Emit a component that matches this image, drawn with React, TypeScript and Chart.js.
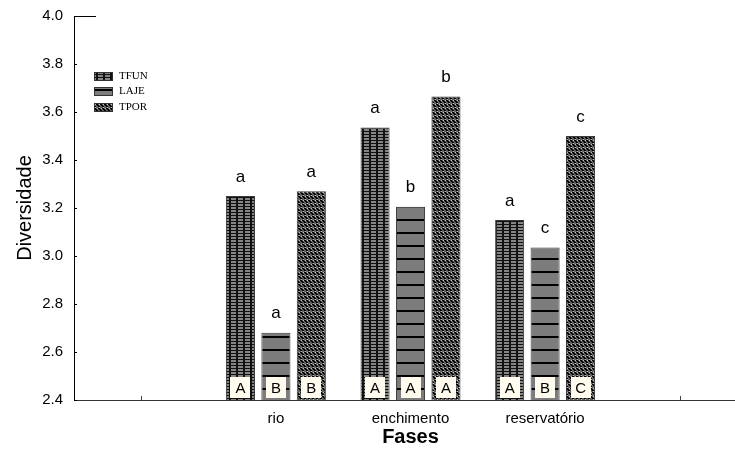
import React, { useEffect, useRef } from 'react';
import { Chart, registerables } from 'chart.js';

Chart.register(...registerables);

// ---- data ----
const categories = ['', 'rio', 'enchimento', 'reservatório', ''];
const seriesNames = ['TFUN', 'LAJE', 'TPOR'];
const tfunValues = [null, 3.25, 3.535, 3.15, null];
const lajeValues = [null, 2.68, 3.205, 3.035, null];
const tporValues = [null, 3.27, 3.665, 3.5, null];
const tfunTopLetters = ['', 'a', 'a', 'a', ''];
const lajeTopLetters = ['', 'a', 'b', 'c', ''];
const tporTopLetters = ['', 'a', 'b', 'c', ''];
const tfunBoxLetters = ['', 'A', 'A', 'A', ''];
const lajeBoxLetters = ['', 'B', 'A', 'B', ''];
const tporBoxLetters = ['', 'B', 'A', 'C', ''];
const yMin = 2.4;
const yMax = 4.0;
const yStep = 0.2;
const yTitle = 'Diversidade';
const xTitle = 'Fases';

const SANS = '"Liberation Sans", Arial, sans-serif';
const SERIF = '"Liberation Serif", "Times New Roman", serif';

function makeTile(w: number, h: number, draw: (c: CanvasRenderingContext2D) => void) {
  const cv = document.createElement('canvas');
  cv.width = w;
  cv.height = h;
  const c = cv.getContext('2d')!;
  draw(c);
  return cv;
}

function makePatterns(ctx: CanvasRenderingContext2D) {
  const tfun = makeTile(7, 3, (c) => {
    c.fillStyle = '#858585';
    c.fillRect(0, 0, 7, 3);
    c.fillStyle = '#111';
    c.fillRect(0, 2, 7, 1);
    c.fillRect(5, 0, 2, 3);
  });
  const laje = makeTile(8, 13, (c) => {
    c.fillStyle = '#7c7c7c';
    c.fillRect(0, 0, 8, 13);
    c.fillStyle = '#000';
    c.fillRect(0, 11, 8, 2);
  });
  const tpor = makeTile(8, 8, (c) => {
    c.fillStyle = '#5e5e5e';
    c.fillRect(0, 0, 8, 8);
    for (let b = 0; b < 2; b++) {
      const yOff = b * 4;
      const xOff = b * 2;
      for (const start of [0, 4]) {
        c.fillStyle = '#000';
        for (let k = 0; k < 3; k++) {
          c.fillRect((start + xOff + k) % 8, yOff + k, 1, 1);
          c.fillRect((start + xOff + k + 1) % 8, yOff + k, 1, 1);
        }
        c.fillStyle = '#bdbdbd';
        c.fillRect((start + xOff + 3) % 8, yOff, 1, 1);
        c.fillRect((start + xOff + 3) % 8, yOff + 3, 1, 1);
      }
    }
  });
  return [
    ctx.createPattern(tfun, 'repeat')!,
    ctx.createPattern(laje, 'repeat')!,
    ctx.createPattern(tpor, 'repeat')!,
  ];
}

export default function App() {
  const ref = useRef<HTMLCanvasElement | null>(null);

  useEffect(() => {
    const canvas = ref.current!;
    const ctx = canvas.getContext('2d')!;
    const patterns = makePatterns(ctx);
    const topLetters = [tfunTopLetters, lajeTopLetters, tporTopLetters];
    const boxLetters = [tfunBoxLetters, lajeBoxLetters, tporBoxLetters];
    const yTicks: number[] = [];
    for (let v = yMin; v <= yMax + 1e-9; v += yStep) yTicks.push(Math.round(v * 10) / 10);

    const decor = {
      id: 'decor',
      beforeDatasetsDraw(chart: any) {
        const { ctx: c, chartArea, scales } = chart;
        c.save();
        c.strokeStyle = '#444';
        c.lineWidth = 1;
        categories.forEach((_, i) => {
          const x = Math.round(scales.x.getPixelForValue(i)) + 0.5;
          c.beginPath();
          c.moveTo(x, chartArea.bottom);
          c.lineTo(x, chartArea.bottom - 4);
          c.stroke();
        });
        c.strokeStyle = '#000';
        yTicks.forEach((v) => {
          const y = Math.round(scales.y.getPixelForValue(v)) + 0.5;
          const len = v === yMax ? 22 : 3;
          c.beginPath();
          c.moveTo(chartArea.left, y);
          c.lineTo(chartArea.left + len, y);
          c.stroke();
        });
        c.restore();
      },
      afterDatasetsDraw(chart: any) {
        const { ctx: c, chartArea } = chart;
        c.save();
        chart.data.datasets.forEach((ds: any, di: number) => {
          const meta = chart.getDatasetMeta(di);
          meta.data.forEach((bar: any, i: number) => {
            if (ds.data[i] == null) return;
            c.fillStyle = '#000';
            c.font = `17px ${SANS}`;
            c.textAlign = 'center';
            c.textBaseline = 'middle';
            c.fillText(topLetters[di][i], bar.x, bar.y - 19);
            const bw = 20;
            const bh = 21;
            const bx = Math.round(bar.x - bw / 2);
            const by = chartArea.bottom - 23;
            c.fillStyle = '#fffbee';
            c.fillRect(bx, by, bw, bh);
            c.fillStyle = '#000';
            c.font = `15px ${SANS}`;
            c.fillText(boxLetters[di][i], bar.x, by + bh / 2 + 1);
          });
        });
        // legend
        const lx = 94;
        const rows = [75.5, 91, 106.5];
        rows.forEach((cy, k) => {
          c.fillStyle = patterns[k];
          c.fillRect(lx, Math.round(cy - 4), 19, 9);
          c.strokeStyle = '#333';
          c.lineWidth = 1;
          c.strokeRect(lx + 0.5, Math.round(cy - 4) + 0.5, 18, 8);
          c.fillStyle = '#000';
          c.font = `11px ${SERIF}`;
          c.textAlign = 'left';
          c.textBaseline = 'middle';
          c.fillText(seriesNames[k], lx + 25, cy + 0.5);
        });
        c.restore();
      },
    };

    const mk = (k: number, data: (number | null)[]) => ({
      label: seriesNames[k],
      data,
      backgroundColor: patterns[k],
      borderColor: '#3a3a3a',
      borderWidth: 1,
      barPercentage: 0.82,
      categoryPercentage: 0.79,
    });

    const chart = new Chart(canvas, {
      type: 'bar',
      data: {
        labels: categories,
        datasets: [mk(0, tfunValues), mk(1, lajeValues), mk(2, tporValues)],
      },
      options: {
        animation: false,
        responsive: false,
        devicePixelRatio: 1,
        layout: { padding: { top: 16, left: 0, right: 0, bottom: 0 } },
        plugins: { legend: { display: false }, tooltip: { enabled: false } },
        scales: {
          x: {
            offset: true,
            grid: { display: true, drawOnChartArea: false, drawTicks: false },
            border: { display: true, color: '#333', width: 1 },
            ticks: { color: '#000', font: { size: 15, family: SANS }, padding: 10, maxRotation: 0, autoSkip: false },
            title: { display: true, text: xTitle, color: '#000', font: { size: 20, weight: 'bold', family: SANS }, padding: { top: 0, bottom: 6 } },
            afterFit: (s: any) => { s.height = 55; s.paddingLeft = 0; s.paddingRight = 0; },
          },
          y: {
            min: yMin,
            max: yMax,
            grid: { display: true, drawOnChartArea: false, drawTicks: false },
            border: { display: true, color: '#000', width: 1 },
            ticks: { stepSize: yStep, color: '#000', font: { size: 15, family: SANS }, padding: 11, callback: (v: any) => Number(v).toFixed(1) },
            title: { display: true, text: yTitle, color: '#000', font: { size: 20, family: SANS }, padding: { top: 13, bottom: 0 } },
            afterFit: (s: any) => { s.width = 74; s.paddingTop = 0; s.paddingBottom = 0; },
          },
        },
      },
      plugins: [decor],
    } as any);
    return () => chart.destroy();
  }, []);

  return (
    <div style={{ position: 'fixed', left: 0, top: 0, width: 735, height: 455, overflow: 'hidden', background: '#fff' }}>
      <canvas ref={ref} width={747} height={455} style={{ width: 747, height: 455, display: 'block' }} />
    </div>
  );
}
